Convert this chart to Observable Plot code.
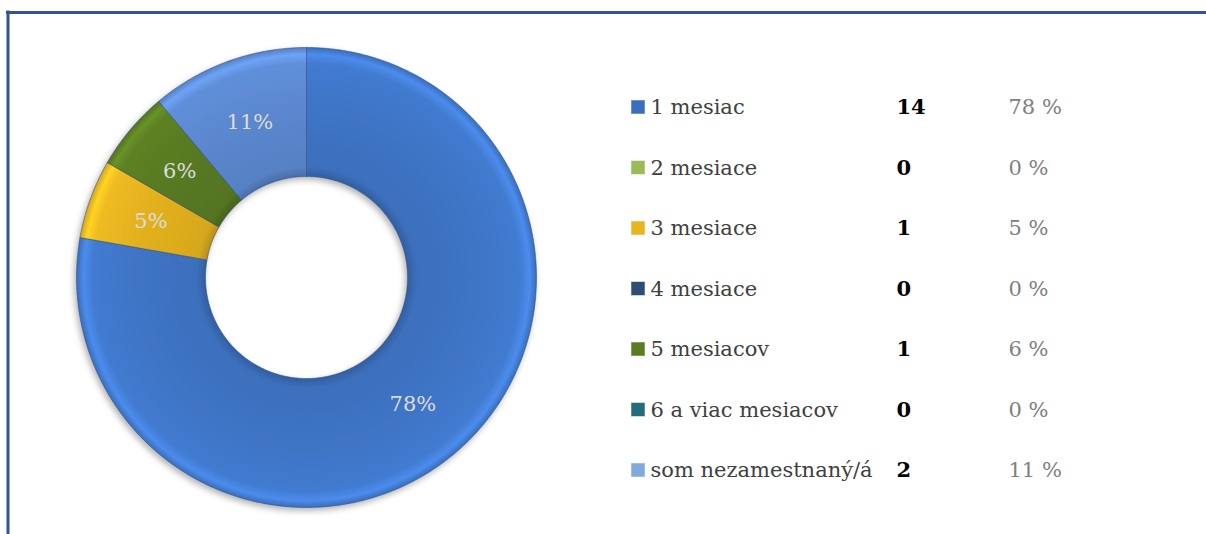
<!DOCTYPE html>
<html><head><meta charset="utf-8">
<script src="https://cdn.jsdelivr.net/npm/d3@7"></script>
<script src="https://cdn.jsdelivr.net/npm/@observablehq/plot@0.6"></script>
<style>
html,body{margin:0;padding:0;background:#fff}
#chart svg{display:block}
</style>
</head><body><div id="chart"></div>
<script>
// ---- data ----
const categories = ["1 mesiac", "2 mesiace", "3 mesiace", "4 mesiace", "5 mesiacov", "6 a viac mesiacov", "som nezamestnaný/á"];
const counts = [14, 0, 1, 0, 1, 0, 2];
const percentTexts = ["78 %", "0 %", "5 %", "0 %", "6 %", "0 %", "11 %"];
const sliceTexts = ["78%", "", "5%", "", "6%", "", "11%"];
const sliceColors = ["#3f75c6", "#9bbb59", "#e3b11f", "#2b4f7c", "#587a22", "#23707f", "#5b88cf"];
const legendColors = ["#3a6fbf", "#9bbb59", "#e8b422", "#2c4d75", "#5a7d24", "#226c7c", "#7eaadd"];

// ---- layout ----
const W = 1206, H = 534;
const cx = 306, cy = 277, R = 230, r0 = 101;
const font = "DejaVu Serif";

const pie = d3.pie().sort(null).value(d => d)(counts);
const pt = (a, rad) => ({x: cx + rad * Math.sin(a), y: cy - rad * Math.cos(a)});

const polys = [];
pie.forEach((p, i) => {
  if (p.endAngle - p.startAngle <= 0) return;
  const n = Math.max(4, Math.ceil((p.endAngle - p.startAngle) / 0.01));
  const pts = [];
  for (let k = 0; k <= n; k++) pts.push(pt(p.startAngle + (p.endAngle - p.startAngle) * k / n, R));
  for (let k = n; k >= 0; k--) pts.push(pt(p.startAngle + (p.endAngle - p.startAngle) * k / n, r0));
  pts.push(pts[0]);
  pts.forEach(q => polys.push({...q, k: i, fill: `url(#sl${i})`}));
});

const labels = pie.filter((p, i) => counts[i] > 0).map(p => {
  const a = (p.startAngle + p.endAngle) / 2;
  return {...pt(a, (R + r0) / 2), text: sliceTexts[p.index]};
});

const rowY = i => 107 + i * 60.5;
const legend = categories.map((c, i) => ({c, i, y: rowY(i), n: counts[i], p: percentTexts[i], col: legendColors[i]}));

const chart = Plot.plot({
  width: W, height: H,
  margin: 0,
  x: {domain: [0, W], range: [0, W], axis: null},
  y: {domain: [0, H], range: [0, H], axis: null},
  color: {type: "identity"},
  style: {background: "#fff"},
  marks: [
    Plot.ruleY([12], {x1: 6, x2: W, stroke: "#2f5597", strokeWidth: 3}),
    Plot.ruleX([7.5], {y1: 10.5, y2: H, stroke: "#2f5597", strokeWidth: 3}),
    Plot.line(polys, {x: "x", y: "y", z: "k", fill: "fill", stroke: "#2a4d80", strokeOpacity: 0.55, strokeWidth: 1, curve: "linear", className: "donut"}),
    Plot.text(labels, {x: "x", y: "y", text: "text", fill: "#dcdcdc", fontSize: 21, fontFamily: font}),
    Plot.rect(legend, {x1: 631, x2: 645, y1: d => d.y - 7, y2: d => d.y + 7, fill: "col", stroke: "#ffffff", strokeOpacity: 0.5}),
    Plot.text(legend, {x: 650, y: "y", text: "c", textAnchor: "start", fill: "#404040", fontSize: 21, fontFamily: font}),
    Plot.text(legend, {x: 896, y: "y", text: "n", textAnchor: "start", fill: "#000", fontWeight: "bold", fontSize: 21, fontFamily: font}),
    Plot.text(legend, {x: 1008, y: "y", text: "p", textAnchor: "start", fill: "#808080", fontSize: 21, fontFamily: font})
  ]
});

// gradients + shadow for the bevelled look
const svg = d3.select(chart);
const defs = svg.insert("defs", ":first-child");
const f = defs.append("filter").attr("id", "shadow").attr("x", "-10%").attr("y", "-10%").attr("width", "120%").attr("height", "120%");
f.append("feDropShadow").attr("dx", -2).attr("dy", 3).attr("stdDeviation", 3).attr("flood-color", "#000").attr("flood-opacity", 0.3);
sliceColors.forEach((c, i) => {
  const base = d3.color(c);
  const g = defs.append("radialGradient").attr("id", `sl${i}`).attr("gradientUnits", "userSpaceOnUse")
    .attr("cx", cx).attr("cy", cy).attr("r", R);
  const stops = [
    [r0 / R, base.darker(0.6)],
    [r0 / R + 0.04, base.darker(0.15)],
    [0.75, base],
    [0.93, base.brighter(0.15)],
    [0.97, base.brighter(0.5)],
    [1, base.darker(0.2)]
  ];
  stops.forEach(([o, col]) => g.append("stop").attr("offset", o).attr("stop-color", col.formatHex()));
});
svg.select(".donut").attr("filter", "url(#shadow)");
document.getElementById("chart").appendChild(chart);
</script>
</body></html>
